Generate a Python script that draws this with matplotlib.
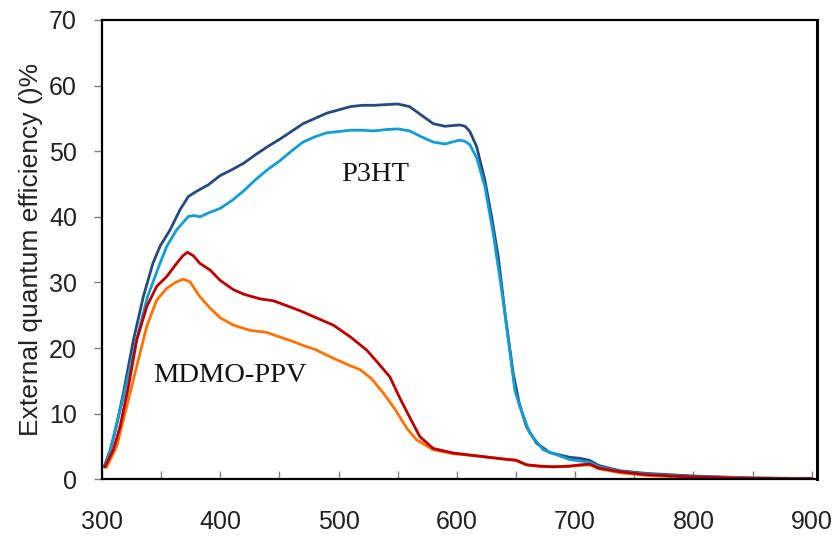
import numpy as np
import matplotlib
matplotlib.use('Agg')
import matplotlib.pyplot as plt
plt.rcParams.update({'font.family': ['Liberation Sans', 'DejaVu Sans']})

# wavelength (nm) and EQE (%)
wl_p3ht_a = [302, 307, 312, 318, 326.5, 335, 343, 349, 357.5, 366, 373, 380, 390, 400,
             410, 420, 430, 440, 450, 460, 470, 480, 490, 500, 510, 520, 530, 540, 550,
             560, 570, 580, 590, 596, 602.5, 607, 611, 616.7, 623.7, 629.4, 635, 640.7,
             647.6, 652.7, 658.9, 667.4, 678.6, 695.5, 704, 712, 720, 738, 760, 800,
             850, 900]
p3ht_a = [2.0, 4.5, 8.0, 13.1, 21.2, 27.9, 32.9, 35.5, 38.0, 41.1, 43.1, 43.9, 44.9, 46.3,
          47.2, 48.2, 49.5, 50.7, 51.8, 53.0, 54.2, 55.0, 55.8, 56.3, 56.8, 57.0, 57.0, 57.1, 57.2,
          56.8, 55.5, 54.2, 53.8, 53.9, 54.0, 53.8, 53.0, 50.7, 45.6, 40.0, 33.9, 25.3,
          16.2, 11.6, 8.0, 5.5, 4.06, 3.35, 3.2, 2.9, 2.1, 1.3, 0.9, 0.5,
          0.2, 0.1]

wl_p3ht_b = [302, 307, 311, 318, 329, 338.6, 349, 354.7, 363, 373, 378, 383, 390, 400,
             410, 420, 430, 440, 450, 460, 470, 480, 490, 500, 510, 520, 530, 540, 550,
             560, 570, 580, 590, 596, 602.5, 607, 611, 616.7, 623.7, 630.7, 639.1, 649,
             653.2, 661.7, 673, 695.5, 704, 712, 720, 738, 760, 800, 850, 900]
p3ht_b = [1.9, 4.2, 7.5, 12.5, 21.2, 27.9, 32.9, 35.5, 38.0, 40.05, 40.2, 40.0, 40.6, 41.3,
          42.5, 44.0, 45.7, 47.2, 48.5, 50.0, 51.4, 52.2, 52.8, 53.0, 53.2, 53.2, 53.1, 53.3, 53.4,
          53.1, 52.2, 51.4, 51.1, 51.4, 51.7, 51.5, 51.0, 49.0, 44.6, 37.5, 27.3, 13.6,
          11.1, 7.0, 4.5, 3.0, 2.8, 2.6, 1.9, 1.2, 0.8, 0.4, 0.2, 0.1]

wl_ppv_a = [302.5, 309.6, 315.2, 322.3, 329.3, 337.8, 346.2, 354.7, 363.1, 368, 372.1, 377,
            382.8, 391.3, 400, 411, 420, 433.5, 445, 460, 470, 480, 495.5, 510, 523.7, 533,
            543.4, 552, 560, 568.7, 580, 597, 620, 639, 650, 659, 670, 681.4, 695.5, 704,
            712.4, 720, 737.8, 760, 794, 850, 900]
ppv_a = [1.9, 4.5, 8.0, 14.1, 21.2, 26.3, 29.4, 30.9, 32.9, 34.0, 34.6, 34.1,
         32.9, 31.9, 30.3, 28.9, 28.2, 27.5, 27.2, 26.2, 25.5, 24.7, 23.5, 21.7, 19.7, 17.8,
         15.6, 12.3, 9.5, 6.5, 4.7, 4.0, 3.5, 3.1, 2.9, 2.2, 2.0, 1.9, 2.0, 2.2,
         2.3, 1.7, 1.16, 0.7, 0.4, 0.15, 0.1]

wl_ppv_b = [304, 312.4, 320.9, 329.3, 337.8, 346.2, 354.7, 362, 368.7, 374.4, 382.8, 391.3,
            400, 411, 425, 439, 450, 460, 470, 480, 495.5, 510, 518.3, 528, 538, 548,
            558, 566, 580, 597, 620, 639, 650, 659, 670, 681.4, 695.5, 704, 712.4, 720,
            737.8, 760, 794, 850, 900]
ppv_b = [1.9, 5.0, 11.1, 17.2, 23.3, 27.3, 29.1, 30.0, 30.5, 30.1, 27.8, 26.1,
         24.6, 23.5, 22.7, 22.4, 21.7, 21.1, 20.4, 19.8, 18.45, 17.3, 16.7, 15.3, 13.1, 10.6,
         7.7, 6.0, 4.5, 3.9, 3.5, 3.1, 2.9, 2.2, 2.0, 1.9, 2.0, 2.1, 2.2, 1.6,
         1.0, 0.6, 0.3, 0.15, 0.1]

fig = plt.figure(figsize=(8.39, 5.36), dpi=100)
ax = fig.add_axes([0.1216, 0.1058, 0.8522, 0.8569])

ax.plot(wl_p3ht_a, p3ht_a, color='#244a7e', lw=2.0)
ax.plot(wl_p3ht_b, p3ht_b, color='#109fd2', lw=2.0)
ax.plot(wl_ppv_b, ppv_b, color='#ff7100', lw=2.0)
ax.plot(wl_ppv_a, ppv_a, color='#c00000', lw=2.0)

ax.set_xlim(300, 904.5)
ax.set_ylim(0, 70)
ax.set_xticks(np.arange(300, 901, 100))
ax.set_xticks(np.arange(350, 900, 100), minor=True)
ax.set_yticks(np.arange(0, 71, 10))
ax.tick_params(axis='x', which='both', direction='in', length=6, width=1,
               color='#808080', pad=22, labelsize=18, labelcolor='#222222')
ax.tick_params(axis='y', direction='out', length=6, width=1,
               color='#808080', pad=12, labelsize=18, labelcolor='#222222')
for s in ax.spines.values():
    s.set_color('black')
    s.set_linewidth(1.6)
ax.spines['right'].set_linewidth(2.2)

ax.set_ylabel('External quantum efficiency ()%', fontsize=19, color='#222222', labelpad=4)

ax.text(502, 45.5, 'P3HT', family='Liberation Serif', fontsize=20.5, color='#111111')
ax.text(343, 14.9, 'MDMO-PPV', family='Liberation Serif', fontsize=20.5, color='#111111')

plt.savefig('out.png', dpi=100)
